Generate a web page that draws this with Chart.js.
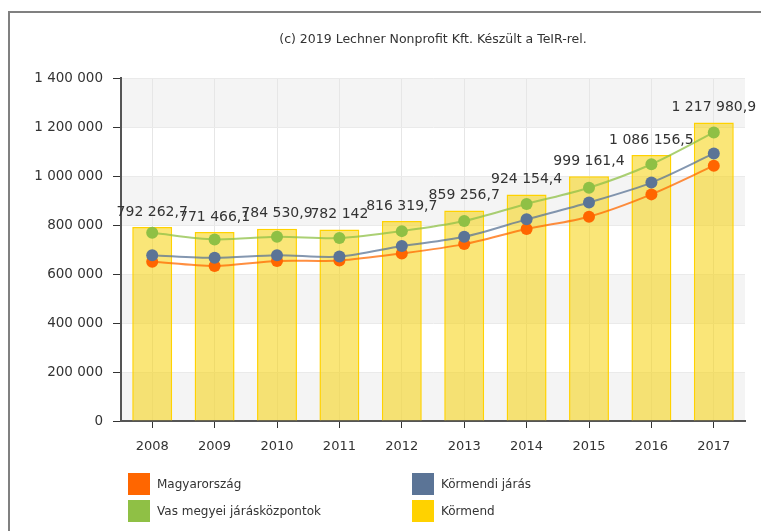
<!DOCTYPE html>
<html>
<head>
<meta charset="utf-8">
<script src="https://cdn.jsdelivr.net/npm/chart.js@4.4.1/dist/chart.umd.min.js"></script>
<style>
  body { margin: 0; overflow: hidden; background: #fff; }
  #wrap { position: relative; width: 761px; height: 531px; }
  #frame { position: absolute; left: 8px; top: 11px; width: 800px; height: 600px;
           border: 2px solid #808080; pointer-events: none; }
  .leg { position: absolute; font: 12px "DejaVu Sans", sans-serif; color: #333; line-height: 22px; }
  .leg span { display: inline-block; width: 22px; height: 22px; vertical-align: top; margin-right: 7px; }
</style>
</head>
<body>
<div id="wrap">
  <canvas id="myChart" width="761" height="531"></canvas>
  <div id="frame"></div>
  <div id="legend"></div>
</div>
<script>
var years = ["2008", "2009", "2010", "2011", "2012", "2013", "2014", "2015", "2016", "2017"];
var kormend = [792262.7, 771466.1, 784530.9, 782142, 816319.7, 859256.7, 924154.4, 999161.4, 1086156.5, 1217980.9];
var magyarorszag = [650000, 633000, 653000, 655000, 684000, 722000, 784000, 834000, 925000, 1042000];
var kormendiJaras = [677000, 666000, 677000, 671000, 714000, 752000, 823000, 892000, 973000, 1092000];
var vasMegyei = [768000, 741000, 752000, 747000, 775000, 816000, 886000, 952000, 1048000, 1178000];
var yTicks = [0, 200000, 400000, 600000, 800000, 1000000, 1200000, 1400000];
var titleText = "(c) 2019 Lechner Nonprofit Kft. Készült a TeIR-rel.";

var FONT = "'DejaVu Sans', sans-serif";

function fmt(v) {
  var parts = String(v).split(".");
  var s = parts[0].replace(/\B(?=(\d{3})+(?!\d))/g, " ");
  return parts.length > 1 ? s + "," + parts[1] : s;
}

// alternating grey bands behind the plot
var bands = {
  id: "bands",
  beforeDraw: function (chart) {
    var c = chart.ctx, a = chart.chartArea, y = chart.scales.y;
    c.save();
    c.fillStyle = "#f4f4f4";
    for (var i = 0; i < yTicks.length - 1; i += 2) {
      var y0 = y.getPixelForValue(yTicks[i]);
      var y1 = y.getPixelForValue(yTicks[i + 1]);
      c.fillRect(a.left, y1, a.right - a.left, y0 - y1);
    }
    c.restore();
  }
};

// value labels above bars + title
var labels = {
  id: "labels",
  afterDraw: function (chart) {
    var c = chart.ctx, a = chart.chartArea;
    c.save();
    c.fillStyle = "#333";
    c.textAlign = "center";
    c.textBaseline = "middle";
    c.font = "12.5px " + FONT;
    c.fillText(titleText, (a.left + a.right) / 2, 40);
    c.font = "14px " + FONT;
    var meta = chart.getDatasetMeta(3);
    meta.data.forEach(function (bar, i) {
      c.fillText(fmt(kormend[i]), bar.x, bar.y - 15);
    });
    c.restore();
  }
};

var ctx = document.getElementById("myChart").getContext("2d");
var chart = new Chart(ctx, {
  type: "bar",
  data: {
    labels: years,
    datasets: [
      {
        type: "line", label: "Magyarország", data: magyarorszag, order: 2,
        borderColor: "rgba(255,106,0,0.75)", backgroundColor: "#ff6600",
        pointBackgroundColor: "#ff6600", borderWidth: 2, pointRadius: 6, pointBorderWidth: 0,
        tension: 0.3
      },
      {
        type: "line", label: "Vas megyei járásközpontok", data: vasMegyei, order: 3,
        borderColor: "rgba(143,192,69,0.75)", backgroundColor: "#8fc045",
        pointBackgroundColor: "#8fc045", borderWidth: 2, pointRadius: 6, pointBorderWidth: 0,
        tension: 0.3
      },
      {
        type: "line", label: "Körmendi járás", data: kormendiJaras, order: 1,
        borderColor: "rgba(91,116,150,0.75)", backgroundColor: "#5b7496",
        pointBackgroundColor: "#5b7496", borderWidth: 2, pointRadius: 6, pointBorderWidth: 0,
        tension: 0.3
      },
      {
        label: "Körmend", data: kormend, order: 4,
        backgroundColor: "rgba(245,210,10,0.55)", borderColor: "#ffd200", borderWidth: 1.5,
        barPercentage: 0.64, categoryPercentage: 1
      }
    ]
  },
  options: {
    responsive: false,
    animation: false,
    layout: { padding: { left: 0, top: 78, right: 16, bottom: 70 } },
    plugins: { legend: { display: false }, tooltip: { enabled: false } },
    scales: {
      x: {
        grid: { offset: false, color: "#e6e6e6", tickColor: "#333", tickLength: 7 },
        border: { color: "#555", width: 2 },
        ticks: { color: "#333", font: { family: FONT, size: 13 }, padding: 11 },
        afterFit: function (s) { s.height = 40; }
      },
      y: {
        min: 0, max: 1400000,
        grid: { color: "#eaeaea", tickColor: "#333", tickLength: 8 },
        border: { color: "#555", width: 2 },
        ticks: { stepSize: 200000, color: "#333", font: { family: FONT, size: 13.5 }, padding: 10,
                 callback: function (v) { return fmt(v); } },
        afterFit: function (s) { s.width = 121; }
      }
    }
  },
  plugins: [bands, labels]
});

// legend in two columns
var legendPos = [[128, 473], [128, 500], [412, 473], [412, 500]];
var legendEl = document.getElementById("legend");
chart.data.datasets.forEach(function (ds, i) {
  var d = document.createElement("div");
  d.className = "leg";
  d.style.left = legendPos[i][0] + "px";
  d.style.top = legendPos[i][1] + "px";
  var colour = i === 3 ? "#ffd200" : ds.pointBackgroundColor;
  d.innerHTML = '<span style="background:' + colour + '"></span>' + ds.label;
  legendEl.appendChild(d);
});
</script>
</body>
</html>
